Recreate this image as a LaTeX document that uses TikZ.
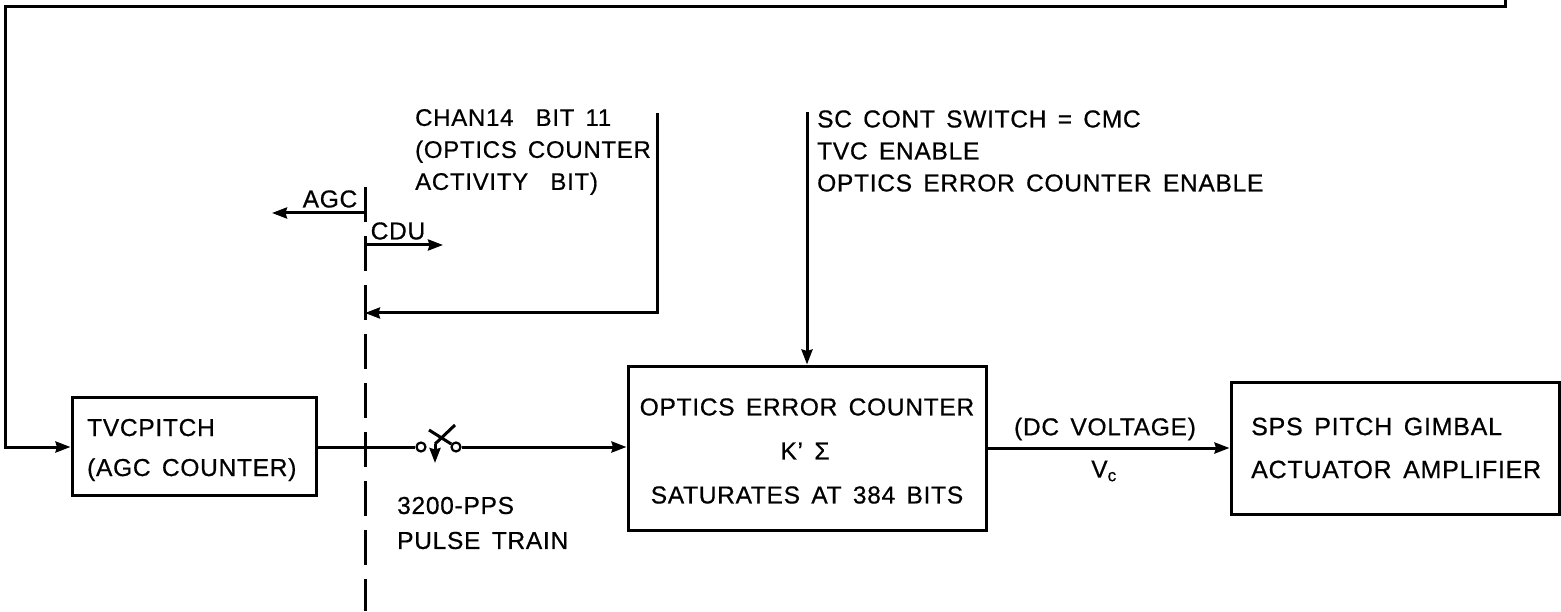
\documentclass[tikz,border=0pt]{standalone}
\usepackage{fontspec}
\setmainfont[LetterSpace=3,WordSpace=1.5,FakeBold=0.6]{Liberation Sans}
\usetikzlibrary{arrows.meta}
\tikzset{
  wire/.style={line width=3pt,line join=miter},
  flow/.style={wire,-{Stealth[length=15pt,width=11pt,inset=1.5pt]}},
  blockbox/.style={draw,line width=3pt,minimum width=0pt,inner sep=0pt},
  lbl/.style={font=\fontsize{24.5}{32}\selectfont,inner sep=0pt,align=left,anchor=west},
  clbl/.style={font=\fontsize{24.5}{32}\selectfont,inner sep=0pt,align=center,anchor=center},
  contact/.style={draw,circle,line width=2.2pt,minimum size=9pt,inner sep=0pt,fill=white},
}
\begin{document}
\begin{tikzpicture}[x=1pt,y=-1pt]
\useasboundingbox (0,0) rectangle (1561,612);
% blocks
\node[blockbox,minimum width=244pt,minimum height=98pt] (tvc) at (194,446) {};
\node[blockbox,minimum width=358pt,minimum height=164pt] (oec) at (807,448) {};
\node[blockbox,minimum width=328pt,minimum height=132pt] (sps) at (1395,448) {};
% block text
\node[lbl,font=\fontsize{24.5}{40}\selectfont] (tvctext) at (87,450) {TVCPITCH\\(AGC COUNTER)};
\node[clbl] (oec1) at (807,407) {OPTICS ERROR COUNTER};
\node[clbl] (oec2) at (805,451) {K' Σ};
\node[clbl] (oec3) at (807,495) {SATURATES AT 384 BITS};
\node[lbl,font=\fontsize{25}{43}\selectfont] (spstext) at (1251,448) {SPS PITCH GIMBAL\\ACTUATOR AMPLIFIER};
% switch
\node[contact] (c1) at (421,447) {};
\node[contact] (c2) at (456,447) {};
\coordinate (blade) at (435,444);
\coordinate (bladetop) at (455,425);
\coordinate (backtop) at (429,430);
\coordinate (ctrl) at (435,463);
\draw[wire] (tvc.east |- c1) -- (c1);
\draw[flow] (c2) -- (oec.west |- c2);
\draw[wire] (bladetop) -- (blade);
\draw[wire] (backtop) -- (c2);
\draw[flow] (blade) -- (ctrl);
% long feedback
\coordinate (fbend) at (1505,0);
\coordinate (fbr) at (1505,7);
\coordinate (fbl) at (5,7);
\coordinate (fbd) at (5,447);
\draw[flow] (fbend) -- (fbr) -- (fbl) -- (fbd) -- (tvc.west |- fbd);
% interface line
\coordinate (ifTop) at (365,187);
\coordinate (ifBot) at (365,611);
\draw[wire,dash pattern=on 35pt off 14pt] (ifTop) -- (ifBot);
\coordinate (agcs) at (365,213);
\coordinate (agce) at (272,213);
\coordinate (cdus) at (365,245);
\coordinate (cdue) at (443,245);
\draw[flow] (agcs) -- (agce);
\draw[flow] (cdus) -- (cdue);
\node[clbl] (agc) at (330,199) {AGC};
\node[clbl] (cdu) at (398,231) {CDU};
% channel 14
\coordinate (ch1) at (657,113);
\coordinate (ch2) at (657,313);
\coordinate (ch3) at (365,313);
\draw[flow] (ch1) -- (ch2) -- (ch3);
\node[lbl,font=\fontsize{24}{32}\selectfont] (chtext) at (415,152) {CHAN14\ \ BIT 11\\(OPTICS COUNTER\\ACTIVITY\ \ BIT)};
% enable
\coordinate (en) at (807,112);
\draw[flow] (en) -- (oec.north);
\node[lbl] (entext) at (817,151) {SC CONT SWITCH = CMC\\TVC ENABLE\\OPTICS ERROR COUNTER ENABLE};
% output
\draw[flow] (oec.east) -- (sps.west);
\node[clbl] (dc) at (1105,429) {(DC VOLTAGE)};
\node[clbl] (vc) at (1104,471) {V\textsubscript{c}};
% pulse
\node[lbl,font=\fontsize{24.5}{35}\selectfont] (pulse) at (397,523) {3200-PPS\\PULSE TRAIN};
\end{tikzpicture}
\end{document}
